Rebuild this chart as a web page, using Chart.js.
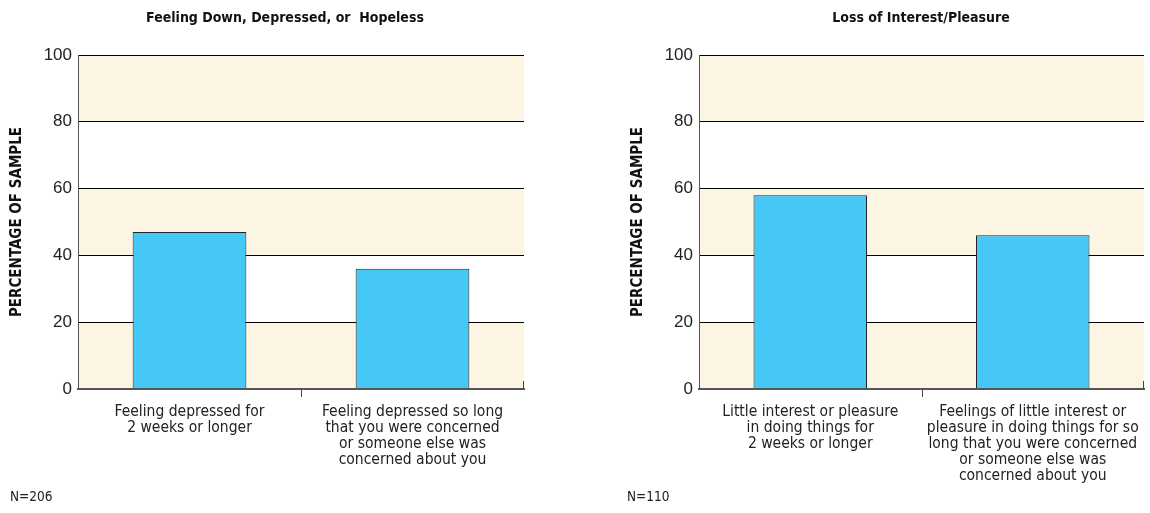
<!DOCTYPE html>
<html>
<head>
<meta charset="utf-8">
<script src="https://cdn.jsdelivr.net/npm/chart.js@4.4.0/dist/chart.umd.min.js"></script>
<style>
  html, body { margin: 0; padding: 0; background: #ffffff; }
  body { width: 1150px; height: 513px; position: relative; overflow: hidden; }
  .panel { position: absolute; top: 0; height: 513px; }
</style>
</head>
<body>
<div class="panel" style="left:0;width:575px"><canvas id="leftChart" width="575" height="513"></canvas></div>
<div class="panel" style="left:621px;width:529px"><canvas id="rightChart" width="529" height="513"></canvas></div>
<script>
// data
const leftTitle = 'Feeling Down, Depressed, or  Hopeless';
const leftCategories = [
    ['Feeling depressed for', '2 weeks or longer'],
    ['Feeling depressed so long', 'that you were concerned', 'or someone else was', 'concerned about you']
];
const leftValues = [47, 36];
const leftNote = 'N=206';

const rightTitle = 'Loss of Interest/Pleasure';
const rightCategories = [
    ['Little interest or pleasure', 'in doing things for', '2 weeks or longer'],
    ['Feelings of little interest or', 'pleasure in doing things for so', 'long that you were concerned', 'or someone else was', 'concerned about you']
];
const rightValues = [58, 46];
const rightNote = 'N=110';

const yTicks = [0, 20, 40, 60, 80, 100];
const shadedBands = [[0, 20], [40, 60], [80, 100]];

const narrow = "'Liberation Sans Narrow', 'DejaVu Sans Condensed', 'Roboto', sans-serif";
const beige = '#fdf5e4';
const barBlue = '#45c8f5';

// background bands, small axis marks, panel title and the N= note
const decorPlugin = {
    id: 'decor',
    beforeDraw(chart) {
        const ctx = chart.ctx;
        const area = chart.chartArea;
        const y = chart.scales.y;
        ctx.save();
        ctx.fillStyle = beige;
        shadedBands.forEach(([lo, hi]) => {
            const top = y.getPixelForValue(hi);
            const bottom = y.getPixelForValue(lo);
            ctx.fillRect(area.left, top, area.right - area.left, bottom - top);
        });
        ctx.restore();
    },
    afterDraw(chart, args, opts) {
        const ctx = chart.ctx;
        const area = chart.chartArea;
        const x = chart.scales.x;
        const base = chart.scales.y.getPixelForValue(0);
        ctx.save();
        ctx.strokeStyle = '#444';
        ctx.lineWidth = 1;
        const mid = Math.round(x.getPixelForValue(0.5)) + 0.5;
        ctx.beginPath();
        ctx.moveTo(mid, base);
        ctx.lineTo(mid, base + 8);
        ctx.moveTo(Math.round(area.right) - 0.5, base);
        ctx.lineTo(Math.round(area.right) - 0.5, base - 8);
        ctx.stroke();

        ctx.textBaseline = 'middle';
        ctx.fillStyle = '#111';
        ctx.font = "bold 14px " + narrow;
        ctx.textAlign = 'center';
        ctx.fillText(opts.title, opts.titleX, 18);

        ctx.fillStyle = '#222';
        ctx.font = "13.5px " + narrow;
        ctx.textAlign = 'left';
        ctx.fillText(opts.note, opts.noteX, 497);
        ctx.restore();
    }
};

function makeChart(id, title, titleX, categories, values, note, noteX, rightPad) {
    return new Chart(document.getElementById(id), {
        type: 'bar',
        data: {
            labels: categories,
            datasets: [{
                data: values,
                backgroundColor: barBlue,
                borderColor: '#222',
                borderWidth: 1,
                borderSkipped: 'bottom',
                barPercentage: 0.51,
                categoryPercentage: 1
            }]
        },
        options: {
            responsive: false,
            animation: false,
            layout: { padding: { left: 0, right: rightPad, top: 55, bottom: 0 } },
            plugins: {
                legend: { display: false },
                tooltip: { enabled: false },
                title: { display: false },
                decor: { title: title, titleX: titleX, note: note, noteX: noteX }
            },
            scales: {
                x: {
                    grid: { display: false },
                    border: { display: true, color: '#555', width: 2 },
                    ticks: {
                        color: '#222',
                        padding: 7,
                        maxRotation: 0,
                        autoSkip: false,
                        font: { family: narrow, size: 15.5, lineHeight: 1.03 }
                    },
                    afterFit(scale) { scale.height = 124; }
                },
                y: {
                    min: 0,
                    max: 100,
                    afterBuildTicks(scale) { scale.ticks = yTicks.map(v => ({ value: v })); },
                    grid: {
                        drawTicks: false,
                        color: ctx => ctx.tick && ctx.tick.value === 0 ? '#555' : '#000',
                        lineWidth: ctx => ctx.tick && ctx.tick.value === 0 ? 2 : 1
                    },
                    border: { display: true, color: '#555', width: 1 },
                    ticks: {
                        color: '#222',
                        padding: 6,
                        font: { family: "'Liberation Sans', Arial, sans-serif", size: 17 }
                    },
                    title: {
                        display: true,
                        text: 'PERCENTAGE OF SAMPLE',
                        color: '#111',
                        font: { family: narrow, size: 15, weight: 'bold' },
                        padding: { top: 8, bottom: 0 }
                    },
                    afterFit(scale) { scale.width = 78; }
                }
            }
        },
        plugins: [decorPlugin]
    });
}

makeChart('leftChart', leftTitle, 285, leftCategories, leftValues, leftNote, 10, 51);
makeChart('rightChart', rightTitle, 300, rightCategories, rightValues, rightNote, 6, 6);
</script>
</body>
</html>
